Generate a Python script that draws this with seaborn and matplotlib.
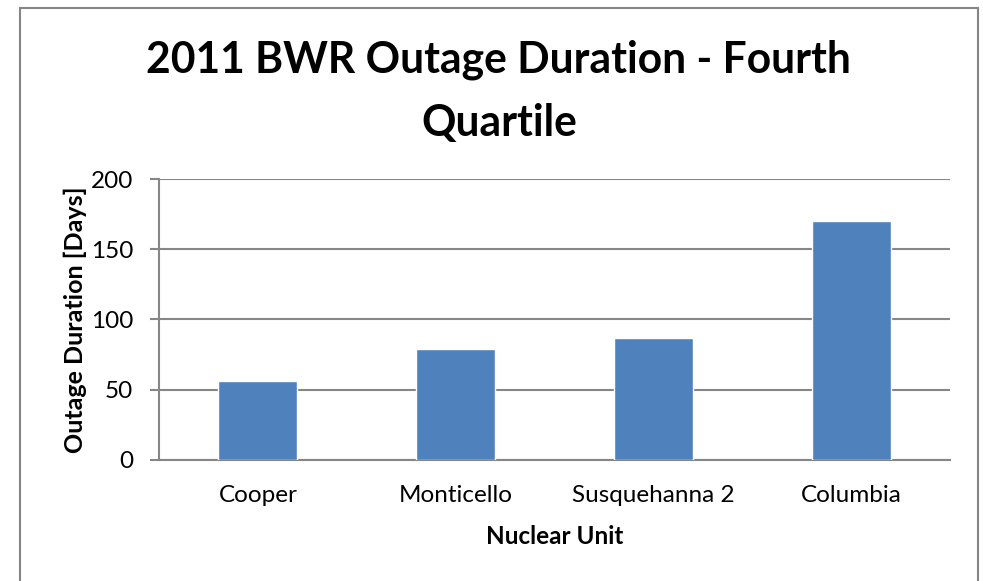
import matplotlib
matplotlib.use("Agg")
import matplotlib.pyplot as plt
import matplotlib.patches as mpatches
import pandas as pd
import seaborn as sns

# chart data
units = ["Cooper", "Monticello", "Susquehanna 2", "Columbia"]
durations = [56, 79, 87, 170]
yTicks = [0, 50, 100, 150, 200]
titleLines = ["2011 BWR Outage Duration - Fourth", "Quartile"]

barColor = "#4F81BD"
lineColor = "#868686"

sns.set_style("white")
plt.rcParams["font.family"] = ["Lato", "DejaVu Sans"]
plt.rcParams["text.color"] = "black"
plt.rcParams["axes.labelcolor"] = "black"
plt.rcParams["xtick.labelcolor"] = "black"
plt.rcParams["ytick.labelcolor"] = "black"

df = pd.DataFrame({"unit": units, "days": durations})

fig = plt.figure(figsize=(9.83, 5.81), dpi=100)
ax = fig.add_axes([0.1617, 0.2083, 0.8047, 0.4836])

sns.barplot(data=df, x="unit", y="days", color=barColor, width=0.4,
            saturation=1, ax=ax, zorder=3)

ax.set_ylim(0, 200)
ax.set_xlim(-0.5, len(units) - 0.5)
ax.set_yticks(yTicks)
ax.yaxis.grid(True, color=lineColor, linewidth=1.5, zorder=0)
ax.set_axisbelow(True)

# x ticks sit between categories, labels centred under bars
ax.set_xticks(range(len(units)))
ax.set_xticklabels(units, fontsize=17.5)
ax.tick_params(axis="x", length=0, pad=18)
ax.set_xticks([i - 0.5 for i in range(len(units) + 1)], minor=True)
ax.tick_params(axis="x", which="minor", length=6, width=1.5, color=lineColor,
               direction="out")
ax.tick_params(axis="y", length=6.5, width=1.5, color=lineColor, direction="out",
               labelsize=17.5, pad=12, left=True)

for side in ["top", "right"]:
    ax.spines[side].set_visible(False)
for side in ["left", "bottom"]:
    ax.spines[side].set_color(lineColor)
    ax.spines[side].set_linewidth(1.5)

ax.set_xlabel("Nuclear Unit", fontsize=17.5, fontweight="bold", labelpad=14)
ax.set_ylabel("Outage Duration [Days]", fontsize=18, fontweight="bold",
              labelpad=3)

fig.text(0.5066, 1 - 73 / 581, titleLines[0], ha="center", va="baseline",
         fontsize=30.7, fontweight="bold")
fig.text(0.5076, 1 - 136 / 581, titleLines[1], ha="center", va="baseline",
         fontsize=30.7, fontweight="bold")

# chart-area border (bottom edge runs off the image)
border = mpatches.Rectangle((20 / 983, -0.05), 958 / 983, 1 - 8 / 581 + 0.05,
                            transform=fig.transFigure, fill=False,
                            edgecolor=lineColor, linewidth=1.5)
fig.patches.append(border)

fig.savefig("out.png", dpi=100)
